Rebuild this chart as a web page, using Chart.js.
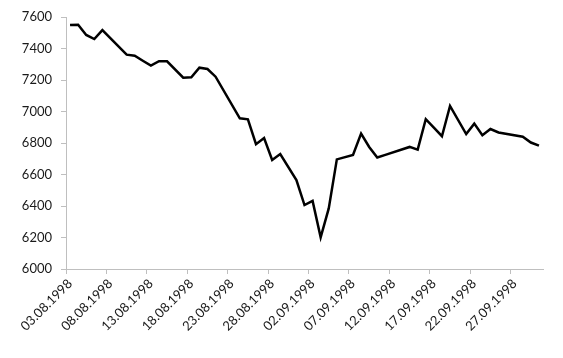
<!DOCTYPE html>
<html>
<head>
<meta charset="utf-8">
<script src="https://cdn.jsdelivr.net/npm/chart.js@4"></script>
<style>
  html, body { margin: 0; padding: 0; background: #fff; }
  #wrap { width: 563px; height: 358px; }
</style>
</head>
<body>
<div id="wrap"><canvas id="chart"></canvas></div>
<script>
// daily closes
const dates = [
  '03.08.1998', '04.08.1998', '05.08.1998', '06.08.1998', '07.08.1998',
  '10.08.1998', '11.08.1998', '12.08.1998', '13.08.1998', '14.08.1998', '15.08.1998',
  '17.08.1998', '18.08.1998', '19.08.1998', '20.08.1998', '21.08.1998',
  '24.08.1998', '25.08.1998', '26.08.1998', '27.08.1998', '28.08.1998', '29.08.1998',
  '31.08.1998', '01.09.1998', '02.09.1998', '03.09.1998', '04.09.1998', '05.09.1998',
  '07.09.1998', '08.09.1998', '09.09.1998', '10.09.1998', '11.09.1998',
  '14.09.1998', '15.09.1998', '16.09.1998', '17.09.1998', '18.09.1998', '19.09.1998',
  '21.09.1998', '22.09.1998', '23.09.1998', '24.09.1998', '25.09.1998',
  '28.09.1998', '29.09.1998', '30.09.1998'
];
const values = [
  7549, 7551, 7486, 7460, 7517,
  7361, 7354, 7322, 7291, 7319, 7319,
  7215, 7217, 7278, 7270, 7221,
  6957, 6950, 6792, 6832, 6692, 6730,
  6565, 6406, 6432, 6201, 6385, 6696,
  6724, 6860, 6775, 6708, 6725,
  6775, 6758, 6951, 6897, 6843, 7035,
  6857, 6923, 6849, 6889, 6867,
  6840, 6803, 6783
];
const tickLabels = [
  '03.08.1998', '08.08.1998', '13.08.1998', '18.08.1998', '23.08.1998', '28.08.1998',
  '02.09.1998', '07.09.1998', '12.09.1998', '17.09.1998', '22.09.1998', '27.09.1998'
];
const yMin = 6000, yMax = 7600, yStep = 200;

const dayOf = s => {
  const [d, m, y] = s.split('.').map(Number);
  return Date.UTC(y, m - 1, d) / 86400000;
};
const day0 = dayOf(dates[0]);
const points = dates.map((s, i) => ({ x: dayOf(s) - day0, y: values[i] }));

const axisColor = '#bfbfbf';
const textColor = '#1a1a1a';
const font = { family: 'Lato, "Open Sans", sans-serif', size: 13 };

new Chart(document.getElementById('chart'), {
  type: 'line',
  data: {
    datasets: [{
      data: points,
      borderColor: '#000',
      borderWidth: 2.5,
      pointRadius: 0,
      tension: 0,
      fill: false
    }]
  },
  options: {
    responsive: true,
    maintainAspectRatio: false,
    animation: false,
    layout: { padding: { top: 17, right: 20, bottom: 0, left: 0 } },
    plugins: { legend: { display: false }, tooltip: { enabled: false } },
    scales: {
      x: {
        type: 'linear',
        min: -0.5,
        max: dayOf(dates[dates.length - 1]) - day0 + 0.5,
        afterBuildTicks: scale => {
          scale.ticks = tickLabels.map(s => ({ value: dayOf(s) - day0 - 0.5 }));
        },
        afterFit: scale => { scale.height = 89; },
        border: { display: true, color: axisColor, width: 1 },
        grid: { display: true, drawOnChartArea: false, drawTicks: true, tickLength: 5, color: axisColor },
        ticks: {
          autoSkip: false,
          minRotation: 45,
          maxRotation: 45,
          labelOffset: 4,
          padding: 2,
          color: textColor,
          font: font,
          callback: (v, i) => tickLabels[i]
        }
      },
      y: {
        min: yMin,
        max: yMax,
        afterFit: scale => { scale.width = 66; },
        border: { display: true, color: axisColor, width: 1 },
        grid: { display: true, drawOnChartArea: false, drawTicks: true, tickLength: 5, color: axisColor },
        ticks: {
          stepSize: yStep,
          padding: 9,
          color: textColor,
          font: font,
          callback: v => String(v)
        }
      }
    }
  }
});
</script>
</body>
</html>
